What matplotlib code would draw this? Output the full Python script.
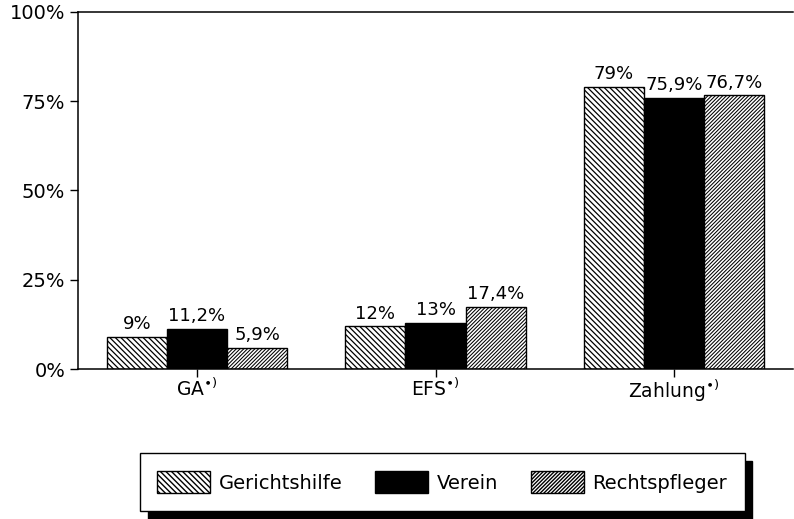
import numpy as np
import matplotlib
matplotlib.use("Agg")
import matplotlib.pyplot as plt

# data
categories = [r"GA$^{\bullet)}$", r"EFS$^{\bullet)}$", r"Zahlung$^{\bullet)}$"]
series = ["Gerichtshilfe", "Verein", "Rechtspfleger"]
gerichtshilfe = [9.0, 12.0, 79.0]
verein = [11.2, 13.0, 75.9]
rechtspfleger = [5.9, 17.4, 76.7]
labels_g = ["9%", "12%", "79%"]
labels_v = ["11,2%", "13%", "75,9%"]
labels_r = ["5,9%", "17,4%", "76,7%"]
yticks = [0, 25, 50, 75, 100]
ytick_labels = ["0%", "25%", "50%", "75%", "100%"]

plt.rcParams["font.family"] = ["DejaVu Sans"]

fig = plt.figure(figsize=(7.94, 5.19), dpi=100)
ax = fig.add_axes([0.098, 0.289, 0.901, 0.688])

x = np.arange(len(categories))
w = 0.252
styles = [
    dict(facecolor="white", edgecolor="black", hatch="\\" * 6),
    dict(facecolor="black", edgecolor="black"),
    dict(facecolor="white", edgecolor="black", hatch="/" * 9),
]
hatch_lw = [0.9, 1.0, 0.75]
vals = [gerichtshilfe, verein, rechtspfleger]
labs = [labels_g, labels_v, labels_r]
for i, (name, v, lab, st) in enumerate(zip(series, vals, labs, styles)):
    pos = x + (i - 1) * w
    with plt.rc_context({"hatch.linewidth": hatch_lw[i]}):
        ax.bar(pos, v, width=w, linewidth=1.0, label=name, **st)
    for px, py, t in zip(pos, v, lab):
        ax.text(px, py + 1.0, t, ha="center", va="bottom", fontsize=13)

ax.set_xlim(-0.5, 2.5)
ax.set_ylim(0, 100)
ax.set_yticks(yticks)
ax.set_yticklabels(ytick_labels, fontsize=14)
ax.set_xticks(x)
ax.set_xticklabels(categories, fontsize=13.5)
ax.tick_params(axis="both", direction="out", length=6, width=1.0, colors="black")
ax.tick_params(axis="x", pad=0)
ax.tick_params(axis="y", pad=3)
ax.spines["right"].set_visible(False)
for s in ["left", "top", "bottom"]:
    ax.spines[s].set_linewidth(1.1)

leg = fig.legend(loc="center", bbox_to_anchor=(0.557, 0.071), ncol=3,
                 fontsize=14, frameon=True, fancybox=False, edgecolor="black",
                 handlelength=2.7, handleheight=1.4, columnspacing=1.7,
                 borderpad=0.9, handletextpad=0.45,
                 shadow={"color": "black", "alpha": 1, "ox": 5.5, "oy": -5.5})
leg.get_frame().set_linewidth(1.0)

fig.savefig("out.png", dpi=100)
